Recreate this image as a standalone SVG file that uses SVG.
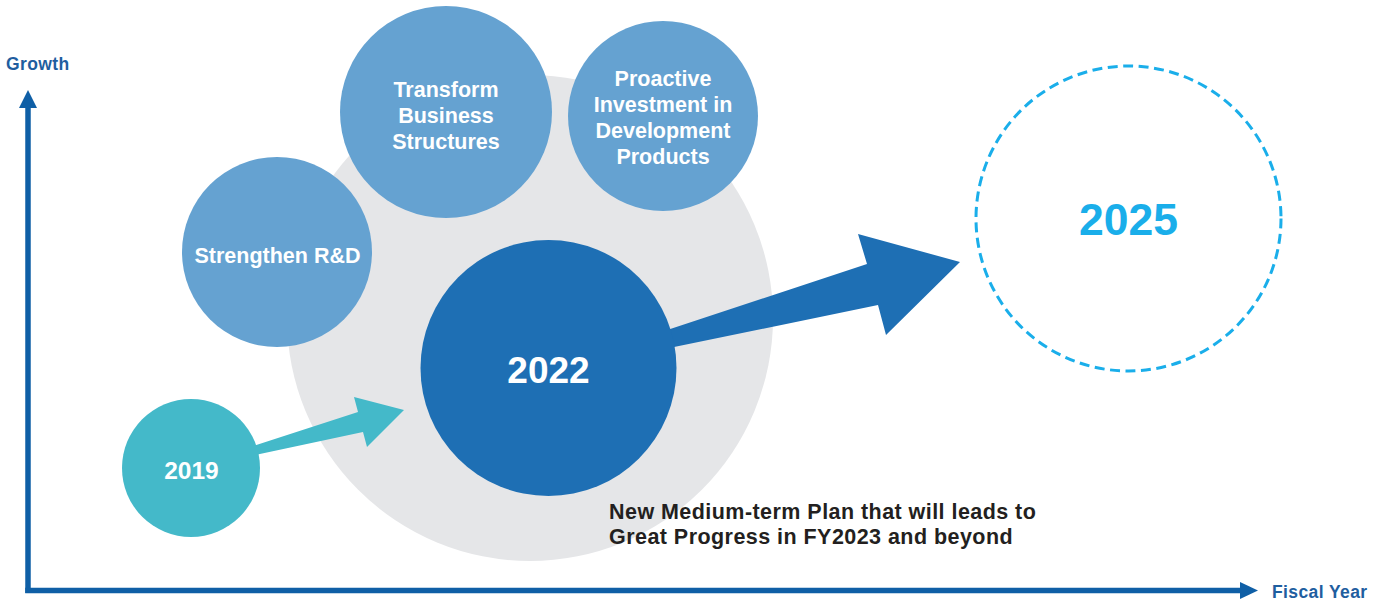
<svg xmlns="http://www.w3.org/2000/svg" width="1386" height="602" viewBox="0 0 1386 602">
  <style>
    .lbl { font-family: "Liberation Sans", Arial, sans-serif; font-weight: bold; text-anchor: middle; }
    .in { fill: #ffffff; font-size: 21.5px; }
    .axis-txt { font-family: "Liberation Sans", Arial, sans-serif; font-weight: bold; font-size: 17.5px; fill: #1F5E9F; letter-spacing: 0.4px; }
    .topic { fill: #65A2D1; }
    .axis { stroke: #0F5FA6; stroke-width: 5.5; fill: none; }
  </style>
  <rect width="1386" height="602" fill="#ffffff"/>

  <!-- background halo -->
  <circle id="halo" cx="530" cy="318" r="243" fill="#E5E6E8"/>

  <!-- axes -->
  <g id="axes">
    <line class="axis" x1="28" y1="104" x2="28" y2="593"/>
    <line class="axis" x1="25.25" y1="590.5" x2="1244" y2="590.5"/>
    <polygon points="28,90 37,108 19,108" fill="#0F5FA6"/>
    <polygon points="1258,590.5 1240,582 1240,599" fill="#0F5FA6"/>
    <text class="axis-txt" x="6" y="70">Growth</text>
    <text class="axis-txt" x="1272" y="598">Fiscal Year</text>
  </g>

  <!-- connectors -->
  <g id="connectors">
    <polygon id="arrow-2019-2022" points="250,447 358,412 354,397 404,410 367,447 363,432 250,456" fill="#44B9C9"/>
    <polygon id="arrow-2022-2025" points="640,339 867,264 858,234 960,262 886,335 878,305 640,354" fill="#1E6FB4"/>
  </g>

  <!-- theme circles -->
  <g id="node-strengthen">
    <circle class="topic" cx="277" cy="252" r="95"/>
    <text class="lbl in" x="277.5" y="263">Strengthen R&amp;D</text>
  </g>
  <g id="node-transform">
    <circle class="topic" cx="446" cy="112" r="106"/>
    <text class="lbl in" x="446" y="97">Transform</text>
    <text class="lbl in" x="446" y="123">Business</text>
    <text class="lbl in" x="446" y="149">Structures</text>
  </g>
  <g id="node-proactive">
    <circle class="topic" cx="663" cy="116" r="95"/>
    <text class="lbl in" x="663" y="86">Proactive</text>
    <text class="lbl in" x="663" y="112">Investment in</text>
    <text class="lbl in" x="663" y="138">Development</text>
    <text class="lbl in" x="663" y="164">Products</text>
  </g>

  <!-- milestones -->
  <g id="node-2019">
    <circle cx="191" cy="468" r="69" fill="#44B9C9"/>
    <text class="lbl" x="191.5" y="479" fill="#ffffff" font-size="24.5">2019</text>
  </g>
  <g id="node-2022">
    <circle cx="548.5" cy="368" r="128" fill="#1E6FB4"/>
    <text class="lbl" x="548.5" y="383" fill="#ffffff" font-size="37">2022</text>
  </g>
  <g id="node-2025">
    <circle cx="1128.5" cy="218.5" r="152.5" fill="none" stroke="#1AAEEA" stroke-width="3" stroke-dasharray="10 5.5"/>
    <text class="lbl" x="1128.5" y="235" fill="#1AAEEA" font-size="44.5">2025</text>
  </g>

  <!-- caption -->
  <g id="caption" font-family="'Liberation Sans', Arial, sans-serif" font-weight="bold" font-size="21.5" fill="#231F20" letter-spacing="0.45">
    <text x="609" y="519">New Medium-term Plan that will leads to</text>
    <text x="609" y="544">Great Progress in FY2023 and beyond</text>
  </g>
</svg>
